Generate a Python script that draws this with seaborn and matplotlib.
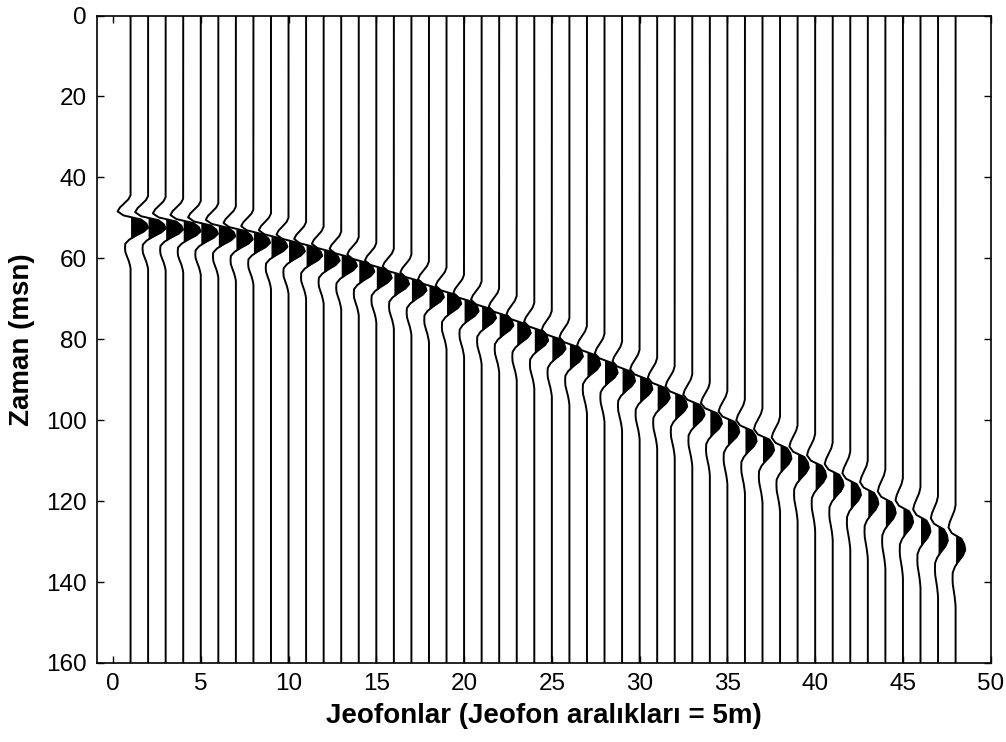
import numpy as np
import pandas as pd
import matplotlib
matplotlib.use("Agg")
import matplotlib.pyplot as plt
from matplotlib import font_manager
import seaborn as sns

# Geophone numbers along the spread (5 m spacing)
geophones = list(range(1, 49))

# Reflection arrival time on each geophone (ms)
arrival_ms = [50.4, 50.6, 50.9, 51.3, 51.9, 52.5, 53.3, 54.1, 55.1, 56.2,
              57.3, 58.5, 59.8, 61.2, 62.7, 64.2, 65.7, 67.4, 69.0, 70.8,
              72.5, 74.3, 76.2, 78.0, 80.0, 81.9, 83.9, 85.9, 87.9, 89.9,
              92.0, 94.1, 96.2, 98.3, 100.4, 102.6, 104.8, 106.9, 109.1, 111.3,
              113.5, 115.8, 118.0, 120.3, 122.5, 124.8, 127.0, 129.3]

# Peak amplitude of the reflection on each trace (in trace-spacing units)
peak_amp = [1.00, 1.00, 0.99, 0.99, 0.98, 0.97, 0.96, 0.95, 0.94, 0.93,
            0.92, 0.91, 0.90, 0.89, 0.88, 0.87, 0.86, 0.85, 0.84, 0.83,
            0.82, 0.81, 0.80, 0.79, 0.78, 0.77, 0.76, 0.75, 0.74, 0.73,
            0.72, 0.71, 0.70, 0.69, 0.68, 0.67, 0.66, 0.65, 0.64, 0.63,
            0.62, 0.61, 0.60, 0.59, 0.58, 0.57, 0.56, 0.55]

# Source wavelet, sampled every 1 ms around the arrival
wavelet_lag_ms = list(range(-6, 13))
wavelet_shape = [0.0, -0.12, -0.35, -0.60, -0.74, -0.40, 0.60, 0.90, 1.0, 0.75,
                 0.30, -0.08, -0.30, -0.32, -0.30, -0.22, -0.12, -0.05, 0.0]

time_ticks = [0, 20, 40, 60, 80, 100, 120, 140, 160]
geophone_ticks = [0, 5, 10, 15, 20, 25, 30, 35, 40, 45, 50]

sns.set_theme(style="white")
installed = {f.name for f in font_manager.fontManager.ttflist}
if "Liberation Sans Narrow" in installed:
    tick_family, tick_size = ["Liberation Sans Narrow", "DejaVu Sans"], 20
else:
    tick_family, tick_size = ["Liberation Sans", "DejaVu Sans"], 17.5
plt.rcParams["font.family"] = tick_family
plt.rcParams["text.color"] = "black"
plt.rcParams["axes.labelcolor"] = "black"
plt.rcParams["xtick.color"] = "black"
plt.rcParams["ytick.color"] = "black"

# Build the wiggle traces
t = np.arange(0.0, 160.05, 0.1)
frames = []
for g, t0, a in zip(geophones, arrival_ms, peak_amp):
    stretch = (t0 / arrival_ms[0]) ** 0.35
    w = a * np.interp((t - t0) / stretch, wavelet_lag_ms, wavelet_shape, left=0.0, right=0.0)
    frames.append(pd.DataFrame({"geophone": g, "time": t, "x": g + w, "w": w}))
traces = pd.concat(frames, ignore_index=True)

fig = plt.figure(figsize=(10.06, 7.42), dpi=100)
ax = fig.add_axes([0.0961, 0.1065, 0.8887, 0.8726])

sns.lineplot(data=traces, x="x", y="time", units="geophone", estimator=None,
             sort=False, orient="y", color="black", lw=1.4, legend=False, ax=ax)

# Fill the positive lobes
for g, sub in traces.groupby("geophone"):
    ax.fill_betweenx(sub["time"].to_numpy(), g, sub["x"].to_numpy(),
                     where=sub["w"].to_numpy() > 0, interpolate=True,
                     color="black", lw=0)

ax.set_xlim(-0.93, 50)
ax.set_ylim(160, 0)
ax.set_xticks(geophone_ticks)
ax.set_yticks(time_ticks)
ax.tick_params(axis="both", which="major", direction="in", length=5, width=1,
               bottom=True, top=True, left=True, right=True,
               labelsize=tick_size, pad=7)
for sp in ax.spines.values():
    sp.set_visible(True)
    sp.set_color("black")
    sp.set_linewidth(1.2)

ax.set_xlabel("Jeofonlar (Jeofon aralıkları = 5m)", fontsize=20, fontweight="bold",
              family=["Liberation Sans", "DejaVu Sans"], labelpad=6)
ax.set_ylabel("Zaman (msn)", fontsize=20, fontweight="bold",
              family=["Liberation Sans", "DejaVu Sans"], labelpad=8)

fig.savefig("out.png", dpi=100, facecolor="white")
